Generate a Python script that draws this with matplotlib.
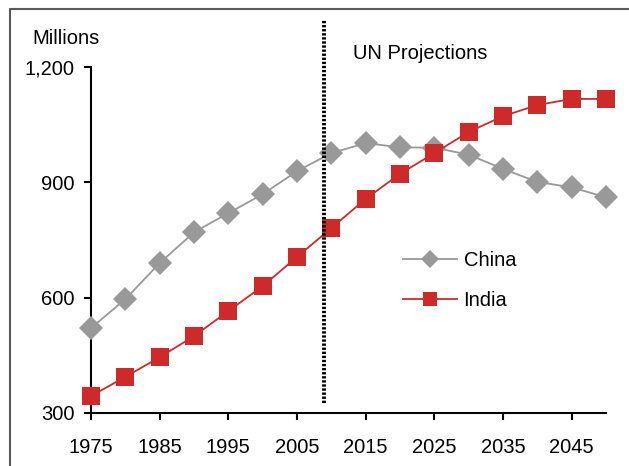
import matplotlib
matplotlib.use("Agg")
import matplotlib.pyplot as plt
from matplotlib.lines import Line2D

plt.rcParams['font.family'] = ['Liberation Sans', 'DejaVu Sans']

# Population, millions
years = [1975, 1980, 1985, 1990, 1995, 2000, 2005, 2010, 2015, 2020,
         2025, 2030, 2035, 2040, 2045, 2050]
china = [521, 596, 690, 770, 820, 869, 929, 976, 1002, 991,
         990, 972, 935, 901, 887, 861]
india = [344, 394, 445, 500, 565, 630, 706, 781, 857, 922,
         976, 1031, 1072, 1101, 1117, 1117]
x_ticks = [1975, 1985, 1995, 2005, 2015, 2025, 2035, 2045]
y_ticks = [300, 600, 900, 1200]
y_tick_labels = ['300', '600', '900', '1,200']
projection_start = 2009

W, H = 629, 466
fig = plt.figure(figsize=(W / 100, H / 100), dpi=100)
ax = fig.add_axes([91 / W, (H - 413) / H, (606 - 91) / W, (413 - 67) / H])

grey = '#999999'
red = '#cf2a2a'

ax.plot(years, china, color=grey, lw=1.3, marker='D', markersize=12,
        markeredgewidth=0, label='China', clip_on=False, zorder=3)
ax.plot(years, india, color=red, lw=1.3, marker='s', markersize=12.5,
        markeredgewidth=0, label='India', clip_on=False, zorder=4)

ax.set_xlim(1975, 2050)
ax.set_ylim(300, 1200)
ax.set_xticks(x_ticks)
ax.set_yticks(y_ticks)
ax.set_yticklabels(y_tick_labels)

for s in ['top', 'right']:
    ax.spines[s].set_visible(False)
for s in ['left', 'bottom']:
    ax.spines[s].set_linewidth(1.5)
    ax.spines[s].set_color('black')

ax.tick_params(axis='both', direction='out', length=5, width=1.5,
               labelsize=14.5, colors='black')
ax.tick_params(axis='x', pad=13)
ax.tick_params(axis='y', pad=7)

# Start of projected period
ax.axvline(projection_start, ymin=(413 - 403) / 346, ymax=(413 - 20) / 346,
           color='black', lw=2.8, linestyle=(0, (0.6, 0.45)), clip_on=False,
           zorder=5)

leg = ax.legend(loc='upper left', bbox_to_anchor=(0.606, 0.468),
                frameon=False, fontsize=14.5, handlelength=2.7,
                handletextpad=0.3, labelspacing=1.05, borderpad=0,
                borderaxespad=0, markerscale=0.75)

fig.text(32 / W, 1 - 44 / H, 'Millions', fontsize=14.5, ha='left',
         va='baseline')
fig.text(353 / W, 1 - 59 / H, 'UN Projections', fontsize=14.5, ha='left',
         va='baseline')

# Outer frame
fig.add_artist(Line2D([10 / W, 10 / W, 1], [0, 1 - 9 / H, 1 - 9 / H],
                      transform=fig.transFigure, color='#5a5a5a', lw=1.5))

fig.savefig('out.png', dpi=100)
